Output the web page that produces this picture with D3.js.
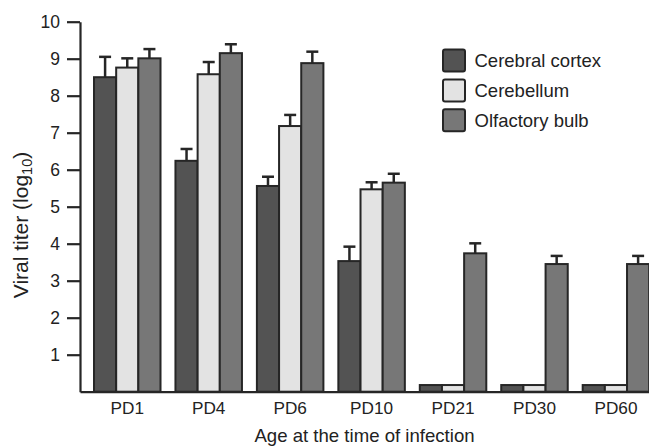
<!DOCTYPE html>
<html>
<head>
<meta charset="utf-8">
<script src="https://cdn.jsdelivr.net/npm/d3@7"></script>
<style>
  body { margin: 0; background: #fff; }
  svg { display: block; font-family: 'Liberation Sans', Arial, sans-serif; }
</style>
</head>
<body>
<svg id="chart" width="649" height="446"></svg>
<script>
const categories = ['PD1', 'PD4', 'PD6', 'PD10', 'PD21', 'PD30', 'PD60'];
const seriesNames = ['Cerebral cortex', 'Cerebellum', 'Olfactory bulb'];
const seriesColors = ['#535353', '#e3e3e3', '#777777'];

const cortex = [8.50, 6.24, 5.56, 3.53, 0.18, 0.18, 0.18];
const cortexErr = [0.55, 0.32, 0.25, 0.39, 0, 0, 0];
const cerebellum = [8.76, 8.58, 7.18, 5.47, 0.18, 0.18, 0.18];
const cerebellumErr = [0.25, 0.33, 0.30, 0.19, 0, 0, 0];
const olfactory = [9.01, 9.15, 8.88, 5.65, 3.74, 3.45, 3.45];
const olfactoryErr = [0.25, 0.24, 0.31, 0.24, 0.27, 0.22, 0.22];

const yTicks = [1, 2, 3, 4, 5, 6, 7, 8, 9, 10];

const values = [cortex, cerebellum, olfactory];
const errors = [cortexErr, cerebellumErr, olfactoryErr];

const svg = d3.select('#chart');
const ink = '#262626';

const y = d3.scaleLinear().domain([0, 10]).range([391.7, 21.7]);
const x0 = d3.scaleBand().domain(categories).range([80, 663.2])
  .paddingInner(0.1835).paddingOuter(0.172);
const x1 = d3.scaleBand().domain(seriesNames).range([0, x0.bandwidth()]);

// one row per bar
const bars = [];
categories.forEach((c, i) => {
  seriesNames.forEach((s, j) => {
    bars.push({ cat: c, series: s, idx: j, value: values[j][i], err: errors[j][i] });
  });
});

function barMid(d) {
  return x0(d.cat) + x1(d.series) + x1.bandwidth() / 2;
}

// error bars, drawn behind the bars
const err = svg.append('g').attr('class', 'errors')
  .selectAll('g')
  .data(bars.filter(d => d.err > 0))
  .enter().append('g')
    .attr('stroke', ink)
    .attr('stroke-width', 2.5);
err.append('line')
  .attr('x1', barMid)
  .attr('x2', barMid)
  .attr('y1', d => y(d.value))
  .attr('y2', d => y(d.value + d.err));
err.append('line')
  .attr('x1', d => barMid(d) - 6)
  .attr('x2', d => barMid(d) + 6)
  .attr('y1', d => y(d.value + d.err))
  .attr('y2', d => y(d.value + d.err));

svg.append('g').attr('class', 'bars')
  .selectAll('rect')
  .data(bars)
  .enter().append('rect')
    .attr('x', d => x0(d.cat) + x1(d.series))
    .attr('y', d => y(d.value))
    .attr('width', x1.bandwidth())
    .attr('height', d => y(0) - y(d.value))
    .attr('fill', d => seriesColors[d.idx])
    .attr('stroke', ink)
    .attr('stroke-width', 2);

// y axis
const yAxis = svg.append('g')
  .attr('transform', 'translate(80,0)')
  .call(d3.axisLeft(y).tickValues(yTicks).tickSize(13).tickPadding(7).tickSizeOuter(0));
yAxis.select('.domain').attr('stroke', ink).attr('stroke-width', 2.2);
yAxis.selectAll('.tick line').attr('stroke', ink).attr('stroke-width', 2.2);
yAxis.selectAll('.tick text')
  .attr('font-size', 17.5)
  .attr('font-family', "'Liberation Sans', Arial, sans-serif")
  .attr('fill', '#222');

// x axis
const xAxis = svg.append('g')
  .attr('transform', 'translate(0,' + y(0) + ')')
  .call(d3.axisBottom(x0).tickSize(0).tickPadding(10).tickSizeOuter(0));
xAxis.select('.domain').attr('stroke', ink).attr('stroke-width', 2.2);
xAxis.selectAll('.tick text')
  .attr('font-size', 17.2)
  .attr('font-family', "'Liberation Sans', Arial, sans-serif")
  .attr('fill', '#222');

// axis titles
svg.append('text')
  .attr('x', 364.5)
  .attr('y', 441.7)
  .attr('text-anchor', 'middle')
  .attr('font-size', 18.6)
  .attr('fill', '#222')
  .text('Age at the time of infection');

const yTitle = svg.append('text')
  .attr('transform', 'translate(27.5,225) rotate(-90)')
  .attr('text-anchor', 'middle')
  .attr('font-size', 21)
  .attr('fill', '#222');
yTitle.append('tspan').text('Viral titer (log');
yTitle.append('tspan').attr('font-size', 14.5).attr('dy', 4).text('10');
yTitle.append('tspan').attr('dy', -4).text(')');

// legend
const legend = svg.append('g')
  .selectAll('g')
  .data(seriesNames)
  .enter().append('g')
    .attr('transform', (d, i) => 'translate(443,' + (49.5 + i * 29.9) + ')');
legend.append('rect')
  .attr('width', 22)
  .attr('height', 22)
  .attr('rx', 2)
  .attr('fill', (d, i) => seriesColors[i])
  .attr('stroke', ink)
  .attr('stroke-width', 2);
legend.append('text')
  .attr('x', 31.5)
  .attr('y', 17.8)
  .attr('font-size', 18.5)
  .attr('fill', '#222')
  .text(d => d);
</script>
</body>
</html>
